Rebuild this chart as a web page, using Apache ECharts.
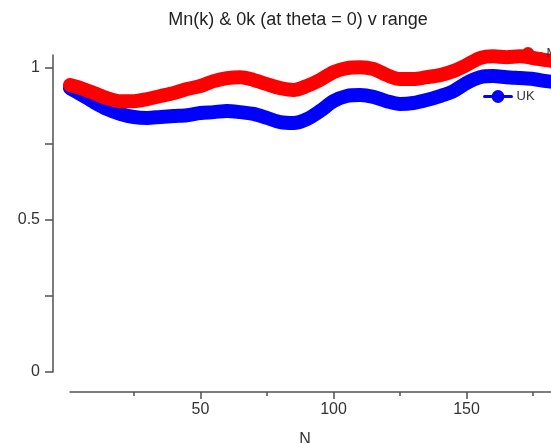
<!DOCTYPE html>
<html>
<head>
<meta charset="utf-8">
<script src="https://cdn.jsdelivr.net/npm/echarts@6/dist/echarts.min.js"></script>
<style>
  html, body { margin: 0; padding: 0; background: #fff; }
  #chart { width: 551px; height: 443px; }
</style>
</head>
<body>
<div id="chart"></div>
<script>
// N values where the two curves are sampled
var nValues = [1, 5, 10, 15, 20, 25, 30, 35, 40, 45, 50, 55, 60, 65, 70, 75, 80, 85, 90, 95,
               100, 105, 110, 115, 120, 125, 130, 135, 140, 145, 150, 155, 160, 165, 170, 175, 180, 185];

// Mn(k)
var mnValues = [0.944, 0.934, 0.918, 0.901, 0.891, 0.891, 0.898, 0.908, 0.918, 0.931,
                0.941, 0.957, 0.967, 0.970, 0.961, 0.947, 0.934, 0.928, 0.941, 0.961,
                0.987, 1.000, 1.003, 0.997, 0.977, 0.964, 0.964, 0.970, 0.977, 0.990,
                1.010, 1.033, 1.039, 1.036, 1.039, 1.033, 1.026, 1.020];

// UK
var ukValues = [0.934, 0.914, 0.888, 0.865, 0.849, 0.839, 0.836, 0.839, 0.842, 0.845,
                0.852, 0.855, 0.859, 0.855, 0.849, 0.836, 0.822, 0.819, 0.832, 0.859,
                0.891, 0.908, 0.911, 0.905, 0.891, 0.882, 0.885, 0.895, 0.908, 0.924,
                0.951, 0.970, 0.974, 0.970, 0.967, 0.964, 0.957, 0.951];

var yTicks = [0, 0.25, 0.5, 0.75, 1];
var yLabels = [0, 0.5, 1];
var xMinorTicks = [25, 75, 125, 175];
var xMajorTicks = [50, 100, 150];

function pairs(xs, ys) {
  return xs.map(function (x, i) { return [x, ys[i]]; });
}

var axisColor = '#505050';
var textColor = '#333';
var font = 'Liberation Sans, Arial, sans-serif';

var chart = echarts.init(document.getElementById('chart'), null, { renderer: 'canvas' });
chart.setOption({
  animation: false,
  backgroundColor: '#fff',
  title: [{
    text: 'Mn(k) & 0k (at theta = 0) v range',
    left: 293,
    textAlign: 'center',
    top: 6,
    textStyle: { fontFamily: font, fontSize: 18, fontWeight: 'normal', color: '#222' }
  }, {
    text: 'N',
    left: 300,
    textAlign: 'center',
    top: 427,
    textStyle: { fontFamily: font, fontSize: 16, fontWeight: 'normal', color: textColor }
  }],
  legend: [{
    data: ['Mn(k)'],
    left: 508,
    top: 42,
    itemWidth: 27,
    itemHeight: 16,
    itemGap: 8,
    textStyle: { fontFamily: font, fontSize: 13, color: textColor },
    lineStyle: { width: 3 }
  }, {
    data: ['UK'],
    left: 478,
    top: 85,
    itemWidth: 27,
    itemHeight: 16,
    itemGap: 8,
    textStyle: { fontFamily: font, fontSize: 13, color: textColor },
    lineStyle: { width: 3 }
  }],
  grid: { left: 70, top: 55, bottom: 71, width: 503, containLabel: false, outerBoundsMode: 'none' },
  xAxis: [{
    type: 'value',
    min: 1,
    max: 190,
    position: 'bottom',
    offset: 20,
    splitLine: { show: false },
    axisLine: { show: true, onZero: false, lineStyle: { color: axisColor, width: 1.5 } },
    axisTick: { show: true, length: 7, customValues: xMajorTicks, lineStyle: { color: axisColor, width: 1.5 } },
    axisLabel: { show: true, customValues: xMajorTicks, margin: 10, color: textColor, fontFamily: font, fontSize: 16 }
  }, {
    type: 'value',
    min: 1,
    max: 190,
    position: 'bottom',
    offset: 20,
    splitLine: { show: false },
    axisLine: { show: false, onZero: false },
    axisTick: { show: true, length: 4, customValues: xMinorTicks, lineStyle: { color: axisColor, width: 1.5 } },
    axisLabel: { show: false }
  }],
  yAxis: {
    type: 'value',
    min: 0,
    max: 1.043,
    offset: 17,
    splitLine: { show: false },
    axisLine: { show: true, onZero: false, lineStyle: { color: axisColor, width: 1.5 } },
    axisTick: { show: true, length: 8, customValues: yTicks, lineStyle: { color: axisColor, width: 1.5 } },
    axisLabel: { show: true, customValues: yLabels, margin: 13, color: textColor, fontFamily: font, fontSize: 16 }
  },
  series: [{
    name: 'UK',
    type: 'line',
    xAxisIndex: 0,
    data: pairs(nValues, ukValues),
    smooth: 0.3,
    symbol: 'circle',
    symbolSize: 13,
    showSymbol: false,
    clip: false,
    itemStyle: { color: '#0000ff' },
    lineStyle: { color: '#0000ff', width: 14, cap: 'round', join: 'round' }
  }, {
    name: 'Mn(k)',
    type: 'line',
    xAxisIndex: 0,
    data: pairs(nValues, mnValues),
    smooth: 0.3,
    symbol: 'circle',
    symbolSize: 13,
    showSymbol: false,
    clip: false,
    itemStyle: { color: '#ff0000' },
    lineStyle: { color: '#ff0000', width: 14, cap: 'round', join: 'round' }
  }]
});
</script>
</body>
</html>
